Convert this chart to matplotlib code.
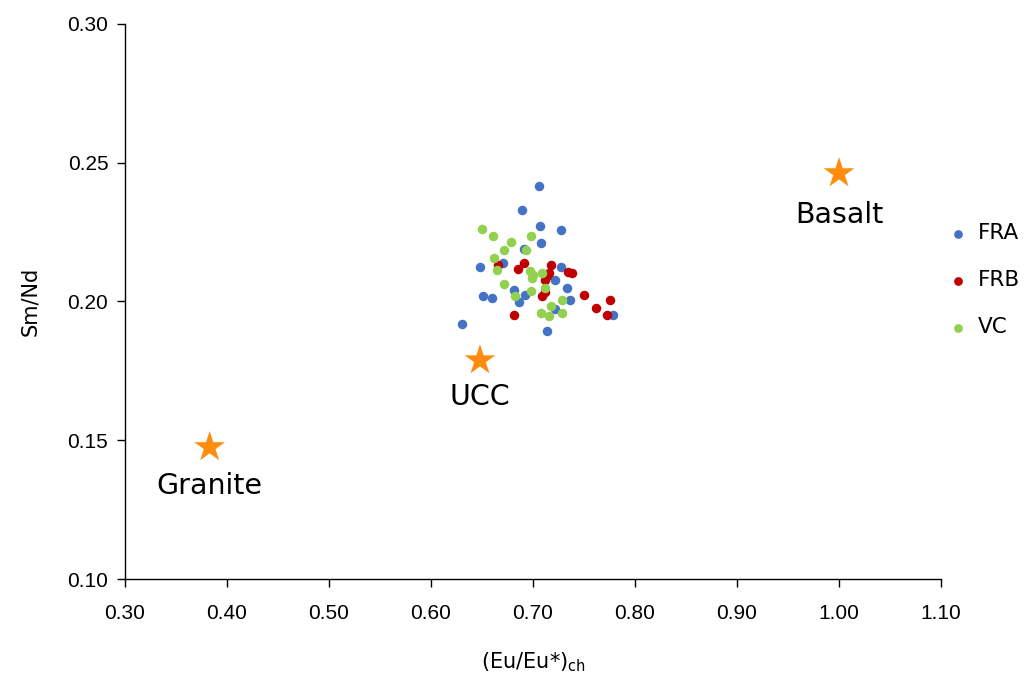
import matplotlib.pyplot as plt
import numpy as np

# FRA
fra_x = [0.706, 0.689, 0.707, 0.727, 0.708, 0.691, 0.671, 0.648, 0.727, 0.722, 0.733,
         0.681, 0.651, 0.660, 0.692, 0.686, 0.736, 0.722, 0.778, 0.630, 0.714]
fra_y = [0.2417, 0.2330, 0.2271, 0.2258, 0.2210, 0.2190, 0.2139, 0.2126, 0.2123, 0.2079, 0.2049,
         0.2041, 0.2019, 0.2012, 0.2022, 0.1999, 0.2007, 0.1974, 0.1953, 0.1918, 0.1893]

# FRB
frb_x = [0.666, 0.691, 0.685, 0.718, 0.716, 0.714, 0.712, 0.734, 0.738,
         0.709, 0.712, 0.750, 0.775, 0.762, 0.773, 0.681]
frb_y = [0.2133, 0.2139, 0.2118, 0.2133, 0.2101, 0.2090, 0.2079, 0.2105, 0.2101,
         0.2019, 0.2033, 0.2025, 0.2004, 0.1977, 0.1953, 0.1950]

# VC
vc_x = [0.650, 0.661, 0.678, 0.672, 0.698, 0.693, 0.662, 0.665, 0.697, 0.700, 0.699,
        0.709, 0.672, 0.712, 0.698, 0.682, 0.728, 0.718, 0.708, 0.716, 0.728]
vc_y = [0.2262, 0.2235, 0.2213, 0.2185, 0.2235, 0.2187, 0.2155, 0.2115, 0.2109, 0.2097, 0.2086,
        0.2103, 0.2064, 0.2048, 0.2037, 0.2018, 0.2005, 0.1982, 0.1959, 0.1946, 0.1959]

# reference compositions
ref_names = ['Granite', 'UCC', 'Basalt']
ref_x = [0.383, 0.648, 1.000]
ref_y = [0.1475, 0.1788, 0.2462]
ref_dy = [0.0139, 0.0131, 0.0150]  # label offset below the star

fig = plt.figure(figsize=(10.33, 6.84), dpi=100)
ax = fig.add_axes([0.121, 0.1535, 0.790, 0.8115])

ax.scatter(fra_x, fra_y, s=34, color='#4472C4', label='FRA', zorder=3)
ax.scatter(frb_x, frb_y, s=34, color='#C00000', label='FRB', zorder=3)
ax.scatter(vc_x, vc_y, s=34, color='#92D050', label='VC', zorder=3)

ax.scatter(ref_x, ref_y, marker='*', s=540, color='#FF8C0E', edgecolors='none', zorder=4)
for name, x, y, dy in zip(ref_names, ref_x, ref_y, ref_dy):
    ax.text(x, y - dy, name, ha='center', va='center', fontsize=20.5,
            family='DejaVu Sans', color='black')

ax.set_xlim(0.30, 1.10)
ax.set_ylim(0.10, 0.30)
ax.set_xticks(np.arange(0.30, 1.101, 0.10))
ax.set_yticks(np.arange(0.10, 0.301, 0.05))
ax.set_xticklabels(['%.2f' % v for v in np.arange(0.30, 1.101, 0.10)])
ax.set_yticklabels(['%.2f' % v for v in np.arange(0.10, 0.301, 0.05)])

for side in ['top', 'right']:
    ax.spines[side].set_visible(False)
for side in ['left', 'bottom']:
    ax.spines[side].set_color('black')
    ax.spines[side].set_linewidth(1.0)
ax.tick_params(direction='out', length=6, width=1, labelsize=15, pad=12)
ax.tick_params(axis='y', pad=6)
for lab in ax.get_xticklabels() + ax.get_yticklabels():
    lab.set_family('Liberation Sans')

ax.set_xlabel('(Eu/Eu*)$_{\\rm ch}$', fontsize=15, family='DejaVu Sans', labelpad=20)
ax.set_ylabel('Sm/Nd', fontsize=15, family='DejaVu Sans', labelpad=20)

ax.legend(loc='center left', bbox_to_anchor=(1.0, 0.538), frameon=False,
          handlelength=0.8, handletextpad=0.5, borderaxespad=0.0,
          labelspacing=1.25, markerscale=0.9,
          prop={'family': 'DejaVu Sans', 'size': 15.5})

fig.savefig('out.png', dpi=100)
